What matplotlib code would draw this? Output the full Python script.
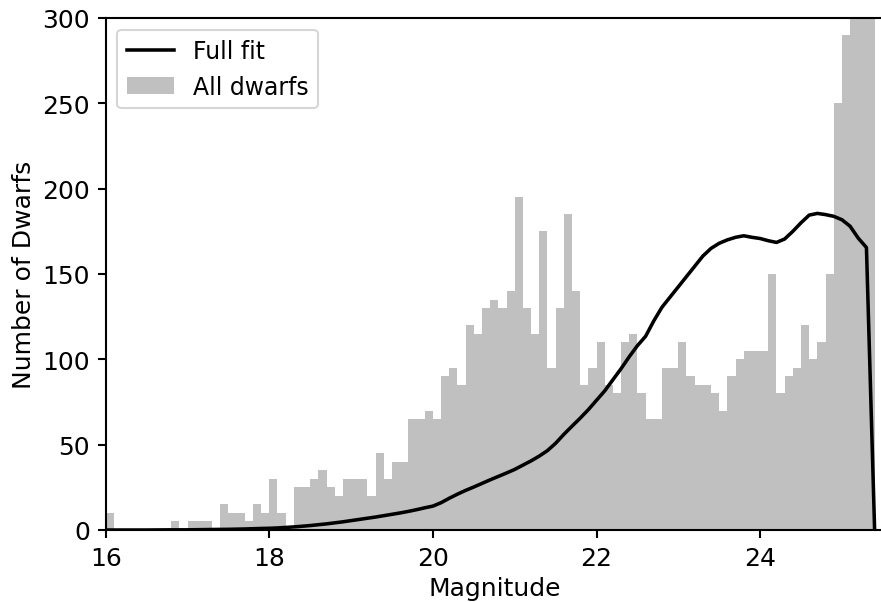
import numpy as np
import matplotlib
matplotlib.use("Agg")
import matplotlib.pyplot as plt

# Histogram: bin edges 16.0 .. 25.4 in steps of 0.1 (94 bins)
bin_start = 16.0
bin_width = 0.1
counts = [
    10, 0, 0, 0, 0, 0, 0, 0, 5, 0,          # 16.0 - 16.9
    5, 5, 5, 0, 15, 10, 10, 5, 15, 10,      # 17.0 - 17.9
    30, 10, 0, 25, 25, 30, 35, 25, 20, 30,  # 18.0 - 18.9
    30, 30, 20, 45, 30, 40, 40, 65, 65, 70, # 19.0 - 19.9
    65, 90, 95, 85, 120, 115, 130, 135, 130, 140,  # 20.0 - 20.9
    195, 130, 115, 175, 95, 130, 185, 140, 85, 95, # 21.0 - 21.9
    110, 85, 80, 110, 115, 80, 65, 65, 95, 95,     # 22.0 - 22.9
    110, 90, 85, 85, 80, 70, 90, 100, 105, 105,    # 23.0 - 23.9
    105, 150, 80, 90, 95, 120, 100, 110, 150, 250, # 24.0 - 24.9
    290, 320, 330, 320,                            # 25.0 - 25.3
]

# Full fit curve
fit_x = [
    16.0, 16.5, 16.8, 17.0, 17.3, 17.5, 17.7, 17.9, 18.0, 18.1, 18.2, 18.3, 18.4,
    18.5, 18.6, 18.7, 18.8, 18.9, 19.0, 19.1, 19.2, 19.3, 19.4, 19.5, 19.6, 19.7,
    19.8, 19.9, 20.0, 20.1, 20.2, 20.3, 20.4, 20.5, 20.6, 20.7, 20.8, 20.9, 21.0,
    21.1, 21.2, 21.3, 21.4, 21.5, 21.6, 21.7, 21.8, 21.9, 22.0, 22.1, 22.2, 22.3,
    22.4, 22.5, 22.6, 22.7, 22.8, 22.9, 23.0, 23.1, 23.2, 23.3, 23.4, 23.5, 23.6,
    23.7, 23.8, 23.9, 24.0, 24.1, 24.2, 24.3, 24.4, 24.5, 24.6, 24.7, 24.8, 24.9,
    25.0, 25.1, 25.2, 25.3, 25.4,
]
fit_y = [
    0.0, 0.0, 0.1, 0.1, 0.3, 0.4, 0.6, 0.9, 1.0, 1.2, 1.5, 1.8, 2.2,
    2.6, 3.1, 3.6, 4.2, 4.8, 5.5, 6.2, 6.9, 7.6, 8.4, 9.2, 10.0, 10.9,
    11.9, 13.0, 14.0, 16.0, 18.6, 21.0, 23.2, 25.2, 27.3, 29.4, 31.4, 33.4, 35.5,
    38.0, 40.5, 43.3, 46.5, 50.8, 56.0, 60.8, 65.5, 70.5, 76.0, 81.5, 88.0, 94.5,
    101.5, 108.0, 113.5, 122.5, 130.5, 136.5, 142.5, 148.5, 154.5, 160.5, 165.0, 168.0, 170.0,
    171.5, 172.4, 171.5, 170.8, 169.5, 168.5, 170.5, 175.0, 180.0, 184.5, 185.5, 184.8, 183.8,
    181.8, 178.0, 171.0, 165.5, 0.0,
]

plt.rcParams["font.size"] = 12
plt.rcParams["axes.linewidth"] = 1.0
plt.rcParams["xtick.major.width"] = 1.0
plt.rcParams["ytick.major.width"] = 1.0
plt.rcParams["xtick.major.size"] = 4
plt.rcParams["ytick.major.size"] = 4

W, H, DPI = 881, 603, 150
fig = plt.figure(figsize=(W / DPI, H / DPI), dpi=DPI)
left_px, right_px, top_px, bot_px = 105.7, 883.0, 19.0, 531.0
ax = fig.add_axes([left_px / W, (H - bot_px) / H,
                   (right_px - left_px) / W, (bot_px - top_px) / H])

edges = bin_start + bin_width * np.arange(len(counts) + 1)
centers = 0.5 * (edges[:-1] + edges[1:])
ax.hist(centers, bins=edges, weights=counts, color="silver", label="All dwarfs")
ax.plot(fit_x, fit_y, color="black", lw=1.7, label="Full fit")

px_per_mag = 81.8
ax.set_xlim(16, 16 + (right_px - left_px) / px_per_mag)
ax.set_ylim(0, 300)
ax.set_xticks([16, 18, 20, 22, 24])
ax.set_yticks([0, 50, 100, 150, 200, 250, 300])
ax.spines["right"].set_visible(False)

ax.set_xlabel("Magnitude", labelpad=3)
ax.set_ylabel("Number of Dwarfs", labelpad=3)

handles, labels = ax.get_legend_handles_labels()
order = [labels.index("Full fit"), labels.index("All dwarfs")]
ax.legend([handles[i] for i in order], [labels[i] for i in order], loc="upper left",
          borderaxespad=0.5, fontsize=11.3)

fig.savefig("out.png", dpi=DPI)
